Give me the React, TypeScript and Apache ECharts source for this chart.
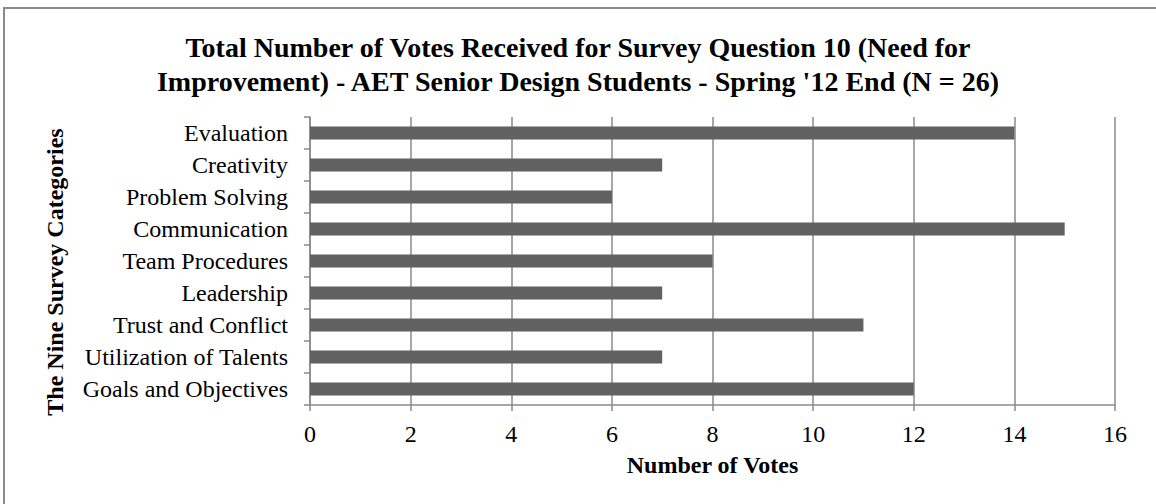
import React, { useEffect, useRef } from "react";
import * as echarts from "echarts";

const categories = [
  "Evaluation",
  "Creativity",
  "Problem Solving",
  "Communication",
  "Team Procedures",
  "Leadership",
  "Trust and Conflict",
  "Utilization of Talents",
  "Goals and Objectives",
];
const votes = [14, 7, 6, 15, 8, 7, 11, 7, 12];
const titleText =
  "Total Number of Votes Received for Survey Question 10 (Need for\nImprovement) - AET Senior Design Students - Spring '12 End (N = 26)";
const xName = "Number of Votes";
const yName = "The Nine Survey Categories";

const FONT = "'Liberation Serif', 'Times New Roman', serif";
const GRID_COLOR = "#8a8a8a";

export default function App() {
  const ref = useRef<HTMLDivElement>(null);
  useEffect(() => {
    const chart = echarts.init(ref.current!, null, { renderer: "svg" });
    chart.setOption({
      animation: false,
      backgroundColor: "#ffffff",
      graphic: [
        {
          type: "rect",
          shape: { x: 4, y: 8, width: 1200, height: 600 },
          style: { fill: "none", stroke: GRID_COLOR, lineWidth: 2 },
          silent: true,
        },
      ],
      title: {
        text: titleText,
        left: "center",
        top: 25,
        textStyle: {
          fontFamily: FONT,
          fontSize: 28,
          fontWeight: "bold",
          color: "#000",
          lineHeight: 34,
        },
      },
      grid: { left: 310, right: 41, top: 117, bottom: 99, containLabel: false },
      xAxis: {
        type: "value",
        min: 0,
        max: 16,
        interval: 2,
        name: xName,
        nameLocation: "middle",
        nameGap: 48,
        nameTextStyle: { fontFamily: FONT, fontSize: 24, fontWeight: "bold", color: "#000" },
        axisLine: { show: true, lineStyle: { color: GRID_COLOR, width: 1.5 } },
        axisTick: { show: true, length: 6, lineStyle: { color: GRID_COLOR, width: 1.5 } },
        axisLabel: { fontFamily: FONT, fontSize: 24, color: "#000", margin: 17 },
        splitLine: { show: true, lineStyle: { color: GRID_COLOR, width: 1.5 } },
      },
      yAxis: {
        type: "category",
        data: categories,
        inverse: true,
        name: yName,
        nameLocation: "middle",
        nameGap: 243,
        nameRotate: 90,
        nameTextStyle: {
          fontFamily: FONT,
          fontSize: 24,
          fontWeight: "bold",
          color: "#000",
          padding: [0, 22, 0, 0],
        },
        axisLine: { show: true, lineStyle: { color: GRID_COLOR, width: 1.5 } },
        axisTick: { show: true, length: 6, lineStyle: { color: GRID_COLOR, width: 1.5 } },
        axisLabel: { fontFamily: FONT, fontSize: 24, color: "#000", margin: 22 },
        splitLine: { show: false },
      },
      series: [
        {
          type: "bar",
          data: votes,
          barWidth: 13,
          itemStyle: { color: "#616161" },
          silent: true,
        },
      ],
    });
    return () => chart.dispose();
  }, []);
  return (
    <div
      ref={ref}
      style={{ position: "fixed", left: 0, top: 0, width: 1156, height: 504 }}
    />
  );
}
